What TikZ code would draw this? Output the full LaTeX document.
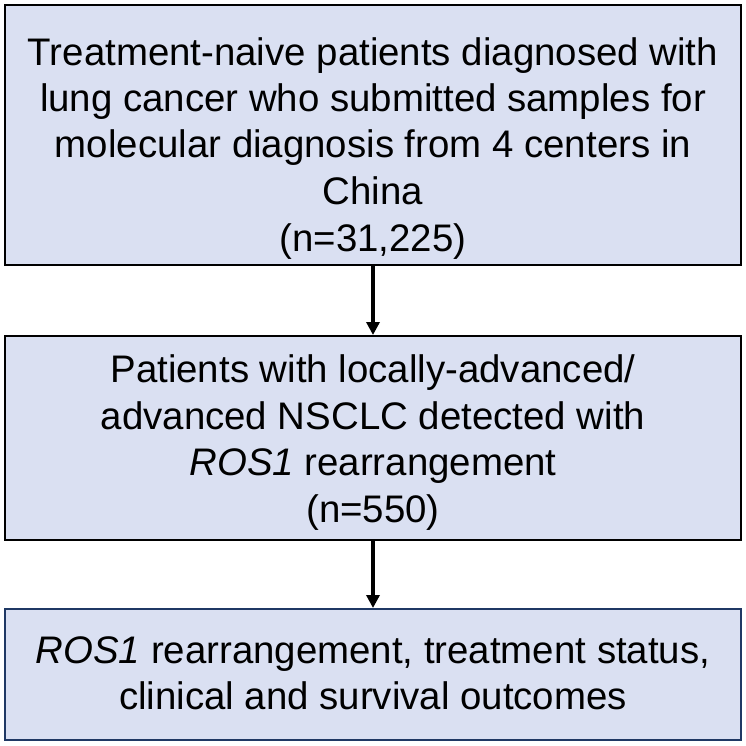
\documentclass[tikz,border=0pt]{standalone}
\usepackage{fontspec}
\setmainfont{Liberation Sans}
\usetikzlibrary{arrows.meta}
\definecolor{boxfill}{HTML}{DAE0F2}
\definecolor{navy}{HTML}{1F3864}
\begin{document}
\begin{tikzpicture}[x=1pt,y=-1pt,
  flowbox/.style={draw=black,line width=2pt,fill=boxfill,rectangle,inner sep=0pt,
    minimum width=736pt},
  flowtext/.style={inner sep=0pt,anchor=base,align=center,font=\fontsize{38.4}{46.5}\selectfont},
  flowarrow/.style={line width=3.5pt,-{Triangle[length=13pt,width=13pt]}}]
\useasboundingbox (0,0) rectangle (746,746);
\node[flowbox,minimum height=260pt] (a) at (373,135) {};
\node[flowbox,minimum height=204pt] (b) at (373,438) {};
\node[flowbox,draw=navy,minimum height=131pt] (c) at (373,674.5) {};
\node[flowtext] (ta) at (373,251) {Treatment-naive patients diagnosed with\\lung cancer who submitted samples for\\molecular diagnosis from 4 centers in\\China\\(n=31,225)};
\node[flowtext] (tb) at (373,522) {Patients with locally-advanced/\\advanced NSCLC detected with\\\textit{ROS1} rearrangement\\(n=550)};
\node[flowtext] (tc) at (373,709.5) {\textit{ROS1} rearrangement, treatment status,\\clinical and survival outcomes};
\draw[flowarrow] (a) -- (b);
\draw[flowarrow] (b) -- (c);
\end{tikzpicture}
\end{document}
